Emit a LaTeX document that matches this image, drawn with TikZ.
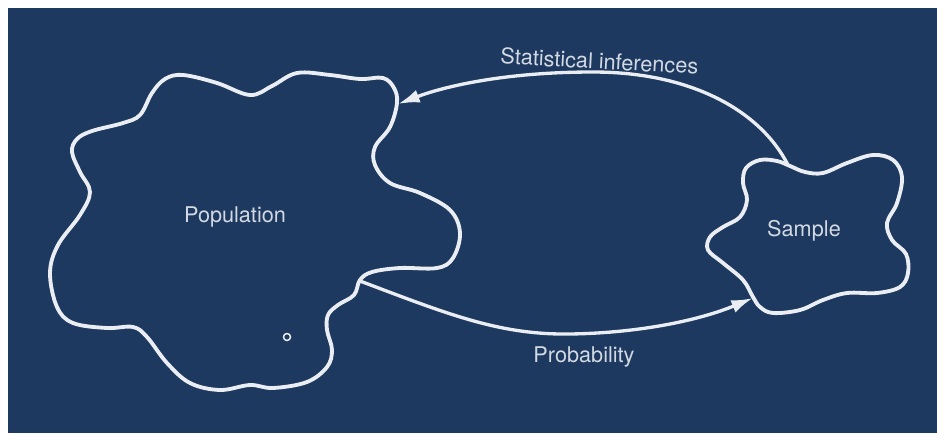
\documentclass[tikz,border=0pt]{standalone}
\usepackage{fontspec}
\setmainfont{TeX Gyre Heros}
\usepackage{xcolor}
\usepackage{tikz}
\usetikzlibrary{arrows.meta, positioning}

\definecolor{navy}{RGB}{29,57,96}
\definecolor{chalk}{RGB}{234,238,242}
\definecolor{labelgrey}{RGB}{210,217,226}

\begin{document}
\begin{tikzpicture}[x=0.3mm, y=-0.3mm,
    blob/.style={draw=chalk, line width=1.15mm, line join=round},
    flow/.style={draw=chalk, line width=1mm, -{Latex[length=6.5mm, width=4mm]}},
    tag/.style={text=labelgrey, font=\fontsize{18.5}{22}\selectfont, inner sep=0pt}]
    % Nền
    \useasboundingbox (0,0) rectangle (937,439);
    \fill[white] (0,0) rectangle (937,439);
    \fill[navy] (8,8) rectangle (937,433);

    % Tổng thể
    \draw[blob] plot[smooth cycle, tension=0.6] coordinates {
        (183,75) (217,83) (250,95) (272,86) (297,73) (330,75) (360,79) (383,78)
        (394,88) (397,103) (390,127) (375,147) (375,165) (390,183) (420,193)
        (450,210) (460,233) (453,258) (437,268) (400,268) (372,272) (360,280)
        (354,295) (338,305) (328,315) (327,330) (332,350) (327,367) (307,382)
        (273,388) (250,385) (220,390) (190,383) (167,363) (147,337) (133,327)
        (107,328) (73,323) (57,307) (50,273) (58,245) (80,215) (90,192)
        (80,172) (72,152) (77,139) (92,131) (123,123) (140,115) (152,93) (165,79)};
    \draw[chalk, line width=0.45mm] (287,337) circle (3.5);

    % Mẫu
    \draw[blob] plot[smooth cycle, tension=0.6] coordinates {
        (760,160) (777,161) (790,166) (805,172) (823,173) (847,163) (873,155)
        (893,160) (902,177) (897,203) (887,223) (892,240) (906,254) (908,273)
        (900,287) (877,293) (847,293) (823,300) (800,310) (773,313) (760,307)
        (753,297) (743,280) (723,263) (708,250) (710,237) (723,227) (740,217)
        (747,200) (743,183) (746,168)};

    % Điểm nối
    \coordinate (popTop) at (398,104);
    \coordinate (popSide) at (360,281);
    \coordinate (sampTop) at (788,165);
    \coordinate (sampSide) at (753,298);

    % Nhãn
    \node[tag, anchor=base] (pop) at (235,222) {Population};
    \node[tag, anchor=base] (samp) at (804,236) {Sample};
    \node[tag, anchor=base] (prob) at (584,362) {Probability};
    \node[tag, anchor=base, rotate=-3] (infer) at (599,69) {Statistical inferences};

    % Mũi tên
    \draw[flow] (sampTop) .. controls (760,110) and (690,72) .. (593,72)
        .. controls (500,72) and (440,88) .. (popTop);
    \draw[flow] (popSide) .. controls (450,315) and (500,335) .. (570,334)
        .. controls (640,333) and (700,320) .. (sampSide);
\end{tikzpicture}
\end{document}
